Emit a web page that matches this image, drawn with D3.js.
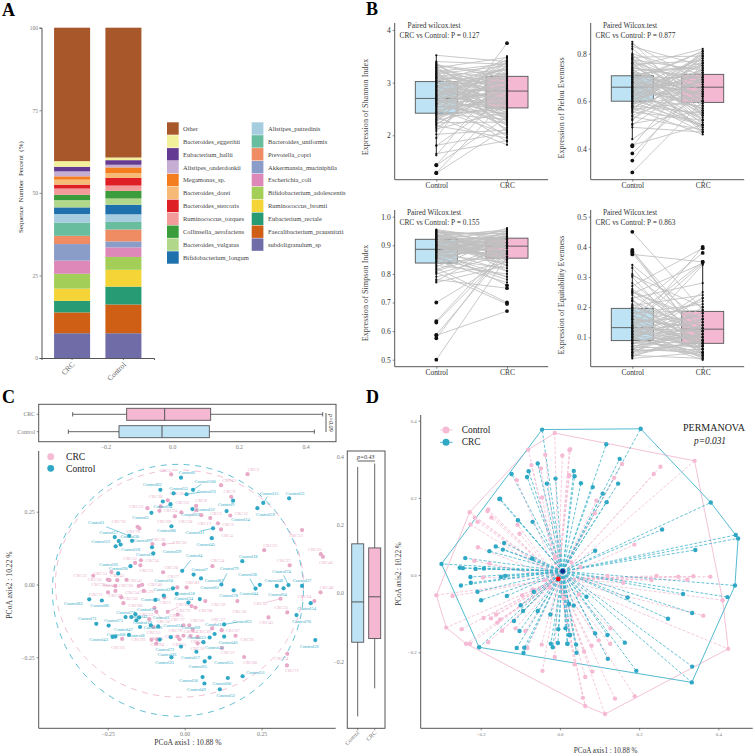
<!DOCTYPE html>
<html><head><meta charset="utf-8">
<script src="https://d3js.org/d3.v7.min.js"></script>
<style>html,body{margin:0;padding:0;background:#fff}svg{display:block}text{font-family:"Liberation Serif","Times New Roman",serif}</style>
</head><body><svg id="chart" width="755" height="756"></svg>
<script>
/* ---------- Panel A ---------- */
const species = ["subdoligranulum_sp","Faecalibacterium_prausnitzii","Eubacterium_rectale","Ruminococcus_bromii","Bifidobacterium_adolescentis","Escherichia_coli","Akkermansia_muciniphila","Prevotella_copri","Bacteroides_uniformis","Alistipes_putredinis","Bifidobacterium_longum","Bacteroides_vulgatus","Collinsella_aerofaciens","Ruminococcus_torques","Bacteroides_stercoris","Bacteroides_dorei","Megamonas_sp.","Alistipes_onderdonkii","Eubacterium_hallii","Bacteroides_eggerthii","Other"];
const speciesColors = ["#6F6CA8","#CE5F14","#269B74","#F4D437","#A3CE58","#DD88B9","#8A9CC8","#F08C64","#68BD9E","#A6CCE0","#1F71AE","#B0D78A","#3A9C3A","#F29B9A","#DE1F26","#F7BA76","#F47D20","#C6ADD2","#643A92","#F3F09C","#A8572B"];
const groupsA = ["CRC","Control"];
const shareCRC = [7.5,6.3,3.5,3.7,4.5,4,5,2.5,4,2.6,2,2.2,1.6,1.9,1.2,1.5,1,1.5,1.4,1.7,40.4];
const shareControl = [7.5,8.7,5.4,5.1,3.9,2.9,1.8,3.6,2.3,2.3,2.9,1.9,2.3,1.6,2.3,1.5,1.7,.8,1.4,.8,39.3];

/* ---------- Panel B: paired samples ---------- */
const shannonControl = [1.28,1.29,1.43,1.44,1.62,1.65,1.8,1.81,1.95,2.02,2.08,2.12,2.15,2.18,2.2,2.24,2.26,2.28,2.3,2.33,2.35,2.37,2.4,2.41,2.43,2.45,2.47,2.5,2.52,2.54,2.56,2.58,2.6,2.62,2.64,2.65,2.67,2.69,2.7,2.72,2.73,2.75,2.77,2.79,2.8,2.82,2.84,2.86,2.88,2.9,2.92,2.94,2.96,2.98,3.0,3.02,3.03,3.05,3.07,3.09,3.1,3.12,3.14,3.15,3.17,3.19,3.2,3.22,3.24,3.26,3.28,3.3,3.32,3.34,3.36,3.38,3.4,3.52,2.22,2.31,2.39,2.44,2.49,2.55,2.61,2.66,2.71,2.74,2.78,2.83,2.87,2.91,2.95,2.99,3.04,3.08,3.11,3.16,3.21,3.25,3.29,3.33,2.59,2.68,2.76,2.85,2.93,3.01];
const shannonCRC = [2.15,2.68,2.35,2.9,3.2,1.9,2.75,2.05,3.75,2.1,3.35,2.45,2.95,1.95,3.05,2.25,3.4,2.6,2.85,3.15,1.82,2.55,3.28,2.3,2.95,3.45,2.72,2.02,3.1,2.62,2.4,3.5,2.28,2.88,2.5,3.22,2.2,3.02,2.78,2.38,3.3,2.58,2.92,1.98,3.12,2.48,2.7,3.38,2.12,2.82,2.52,3.18,2.32,3.0,2.65,3.42,2.42,2.86,3.08,2.18,2.76,3.25,2.56,2.9,3.32,2.36,2.98,2.08,3.05,2.66,3.48,2.46,2.8,3.15,2.6,2.26,3.35,3.4,2.9,3.2,2.5,2.75,3.4,2.35,3.05,2.62,1.88,2.94,3.3,2.44,2.7,3.14,2.22,2.84,3.24,2.58,2.96,2.3,3.36,2.74,2.06,3.1,2.88,2.4,3.18,2.64,3.26,2.34];
const pielouControl = [.3,.35,.38,.41,.415,.44,.49,.5,.505,.52,.535,.54,.55,.555,.56,.565,.57,.575,.58,.585,.59,.595,.6,.605,.61,.615,.62,.625,.63,.635,.64,.645,.65,.655,.66,.665,.67,.675,.68,.685,.69,.695,.7,.705,.71,.715,.72,.725,.73,.735,.74,.745,.75,.755,.76,.765,.77,.775,.78,.785,.79,.795,.8,.82,.83,.84,.85,.525,.575,.59,.6,.61,.62,.63,.64,.65,.66,.67,.68,.69,.7,.71,.72,.73,.74,.76,.78,.6,.64,.66,.68,.7,.62,.58,.72];
const pielouCRC = [.6,.72,.66,.76,.5,.63,.47,.7,.56,.79,.48,.65,.74,.52,.81,.6,.46,.69,.55,.77,.62,.5,.73,.58,.67,.8,.47,.64,.71,.53,.75,.61,.68,.49,.78,.57,.72,.66,.51,.63,.81,.55,.7,.59,.76,.48,.65,.62,.74,.54,.69,.82,.58,.77,.52,.67,.6,.73,.5,.79,.64,.56,.71,.6,.75,.68,.54,.7,.5,.76,.54,.68,.79,.49,.6,.73,.57,.64,.81,.52,.66,.75,.47,.62,.7,.55,.6,.78,.5,.69,.63,.56,.72,.8,.59];
const simpsonControl = [.5,.575,.585,.587,.63,.635,.7,.77,.775,.78,.8,.805,.81,.82,.825,.83,.835,.84,.845,.85,.853,.856,.86,.863,.866,.87,.873,.876,.88,.883,.886,.889,.892,.895,.898,.9,.903,.906,.909,.912,.915,.918,.92,.923,.926,.929,.932,.935,.938,.94,.943,.946,.948,.95,.953,.955,.79,.815,.845,.855,.865,.875,.885,.89,.895,.9,.905,.91,.915,.92,.925,.93,.935,.94,.945,.95,.86,.87,.88,.89,.9,.91,.92,.93,.88,.9];
const simpsonCRC = [.86,.9,.67,.88,.88,.9,.85,.83,.91,.75,.87,.695,.89,.7,.93,.8,.94,.86,.77,.92,.82,.9,.78,.95,.84,.91,.79,.87,.93,.81,.96,.88,.85,.92,.9,.86,.94,.83,.895,.87,.91,.85,.93,.88,.92,.84,.9,.95,.89,.86,.94,.91,.87,.93,.9,.92,.84,.9,.92,.79,.88,.945,.76,.9,.86,.93,.85,.91,.87,.95,.83,.89,.92,.81,.94,.86,.9,.935,.87,.91,.85,.93,.89,.955,.905,.875];
const equitControl = [.03,.035,.04,.045,.05,.055,.06,.065,.07,.075,.08,.085,.09,.092,.095,.1,.103,.106,.11,.113,.116,.12,.123,.126,.13,.133,.136,.14,.145,.15,.155,.16,.165,.17,.175,.18,.185,.19,.195,.2,.205,.21,.22,.225,.23,.24,.245,.25,.255,.26,.27,.3,.305,.31,.33,.34,.375,.38,.385,.39,.45,.04,.05,.06,.07,.08,.09,.1,.11,.12,.13,.14,.15,.16,.17,.18,.19,.2,.22,.25,.28,.1,.12,.08,.06,.14,.05,.09,.11,.16,.13];
const equitCRC = [.05,.12,.03,.09,.16,.06,.2,.07,.11,.04,.14,.08,.34,.1,.05,.18,.025,.13,.07,.23,.09,.15,.06,.4,.12,.03,.1,.22,.08,.17,.05,.13,.35,.11,.07,.19,.09,.38,.06,.14,.24,.08,.12,.04,.28,.1,.345,.16,.07,.11,.395,.05,.2,.13,.06,.15,.35,.09,.12,.08,.19,.09,.14,.05,.11,.07,.25,.04,.16,.1,.06,.345,.08,.13,.05,.21,.09,.12,.07,.15,.1,.035,.18,.11,.14,.06,.085,.23,.045,.075,.12];
const whiskerControl = {shannon:[1.62,3.52],pielou:[.44,.85],simpson:[.77,.955],equit:[.03,.34]};
const whiskerCRC = {shannon:[1.82,3.52],pielou:[.46,.82],simpson:[.77,.96],equit:[.025,.345]};
const boxShannon = [[2.42,2.70,3.02],[2.52,2.84,3.12]];
const boxPielou = [[.6,.659,.707],[.595,.659,.713]];
const boxSimpson = [[.838,.886,.921],[.855,.897,.925]];
const boxEquit = [[.089,.132,.196],[.08,.127,.186]];

/* ---------- Panel C: PCoA box summaries [low, Q1, median, Q3, high] ---------- */
const axis1BoxCRC = [-.3,-.138,-.024,.114,.45];
const axis1BoxControl = [-.313,-.161,-.032,.11,.425];
const axis2BoxControl = [-.36,-.143,-.025,.145,.37];
const axis2BoxCRC = [-.278,-.132,-.01,.133,.38];
/* ellipse parameters [cx, cy, rx, ry] */
const ellipseControl = [-.022,-.02,.4075,.4325];
const ellipseCRC = [-.017,.003,.4026,.39];

/* sample scores in panel C: [label, axis1, axis2] */
const scoresCRC = [["CRC5",-.044,.378],["CRC13",-.121,.262],["CRC28",-.078,.268],["CRC18",-.055,.289],["CRC24",-.082,.253],["CRC62",-.011,.248],["CRC69",-.032,.234],["CRC70",-.153,.198],["CRC76",-.147,.193],["CRC30",-.105,.139],["CRC36",-.068,.138],["CRC52",-.161,.074],["CRC34",-.142,.083],["CRC21",-.144,.066],["CRC51",-.238,.043],["CRC20",-.07,.042],
["CRC3",.204,.379],["CRC12",.118,.341],["CRC9",.151,.301],["CRC8",.037,.27],["CRC58",.038,.255],["CRC17",.054,.238],["CRC2",.083,.228],["CRC11",.148,.237],["CRC6",.108,.21],["CRC4",.118,.189],["CRC22",.381,.187],["CRC23",.258,.118],["CRC65",.442,.104],["CRC46",.449,.095],["CRC27",.341,.066],["CRC14",.09,.063],
["CRC7",-.024,-.01],["CRC82",.006,-.01],["CRC48",.441,-.027],["CRC64",.421,-.057],["CRC92",.311,-.049],["CRC35",.333,-.096],["CRC45",.272,-.113],["CRC10",.171,-.057],["CRC59",.067,-.057],["CRC73",.022,-.074],["CRC68",.035,-.079],["CRC77",-.023,-.103],["CRC75",-.004,-.14],["CRC66",.015,-.14],["CRC39",.026,-.156],["CRC37",.089,-.151],["CRC67",.12,-.157],["CRC91",.165,-.176],["CRC79",-.004,-.176],["CRC25",-.023,-.179],["CRC44",.019,-.177],["CRC47",.042,-.18],["CRC15",-.017,-.188],["CRC16",.042,-.202],["CRC57",.121,-.218],["CRC80",.193,-.249],["CRC74",.333,-.238],["CRC71",.332,-.278],
["CRC31",-.297,.03],["CRC56",-.25,.017],["CRC42",-.244,.015],["CRC43",-.219,.015],["CRC41",-.189,.016],["CRC78",-.225,-.005],["CRC49",-.225,-.022],["CRC72",-.249,-.027],["CRC38",-.149,-.005],["CRC40",-.138,-.001],["CRC29",-.133,-.022],["CRC54",-.206,-.044],["CRC50",-.199,-.064],["CRC1",-.066,-.044],["CRC60",-.098,-.08],["CRC63",-.055,-.094],["CRC26",-.092,-.094],["CRC53",-.115,-.119],["CRC55",-.101,-.146],["CRC61",-.203,-.187],["CRC93",-.108,-.19],["CRC94",-.089,-.189],["CRC95",-.092,-.203]];
const scoresControl = [["Control6",-.012,.367],["Control82",-.079,.325],["Control53",-.036,.313],["Control23",.006,.31],["Control100",.027,.325],["Control94",-.071,.285],["Control62",-.046,.276],["Control5",-.108,.246],["Control80",-.043,.2],["Control1",-.18,.167],["Control17",-.227,.163],["Control30",-.214,.149],["Control28",-.208,.137],["Control12",-.224,.131],["Control97",-.171,.15],["Control29",-.106,.128],["Control31",-.102,.107],["Control26",-.176,.063],["Control90",-.216,.038],["Control4",-.008,.047],["Control7",.029,.034],["Control87",.053,.021],["Control79",.119,0],["Control78",.159,-.02],["Control38",.23,-.014],["Control44",.244,-.001],["Control48",.299,-.005],["Control64",.321,-.013],["Control74",.337,-.002],["Control37",.381,-.005],["Control54",.409,-.064],["Control70",.363,-.105],["Control59",.424,-.191],["Control25",-.038,-.013],["Control34",-.026,-.032],["Control61",.049,-.05],["Control58",.012,-.062],["Control63",.128,-.137],["Control16",.097,-.17],["Control22",.081,-.182],["Control46",.128,-.179],["Control41",.061,-.198],["Control36",-.012,-.213],["Control33",-.043,-.25],["Control57",.038,-.231],["Control65",.065,-.264],["Control55",.081,-.251],["Control50",.058,-.318],["Control49",.064,-.34],["Control60",.14,-.321],["Control51",.188,-.315],["Control52",.114,-.36],["Control83",-.31,-.051],["Control86",-.269,-.055],["Control71",-.287,-.135],["Control75",-.247,-.141],["Control77",-.192,-.112],["Control19",-.173,-.112],["Control27",-.16,-.102],["Control3",-.148,-.113],["Control8",-.157,-.123],["Control56",-.145,-.146],["Control24",-.11,-.14],["Control42",-.086,-.144],["Control43",-.234,-.18],["Control47",-.225,-.179],["Control68",-.181,-.173],["Control73",-.081,-.189],["Control69",-.045,-.181],["Control20",-.095,-.053],["Control10",-.068,-.038],["Control11",.092,.193],["Control9",.157,.288],["Control15",.255,.28],["Control13",.339,.296],["Control39",.236,.262],["Control32",.025,.259],["Control14",.136,.252],["Control18",.187,.08],["Control45",.088,.159]];
/* repelled-label nudges in pixels (name -> [dx, dy]); unlisted labels are placed by a small repel pass */
const labelNudge = {CRC5:[-6,-4],CRC13:[-11,-2],CRC28:[-5,-10],CRC18:[9,-7],CRC24:[11,0],CRC62:[1,-10],CRC69:[-11,5],CRC70:[-19,-5],CRC76:[-6,3],CRC30:[6,-5],CRC36:[16,-2],CRC52:[-5,-4],CRC34:[11,0],CRC21:[6,5],CRC51:[-11,2],CRC20:[8,-5],CRC3:[6,-5],CRC12:[8,-5],CRC9:[-2,-5],CRC8:[5,-5],CRC58:[-11,11],CRC17:[3,8],CRC2:[6,-5],CRC11:[11,-2],CRC6:[10,1],CRC4:[6,6],CRC22:[-6,5],CRC23:[6,-5],CRC65:[-6,-5],CRC46:[3,6],CRC27:[-6,-5],CRC14:[5,-6],CRC7:[-4,-11],CRC82:[6,-5],CRC48:[6,-5],CRC64:[-10,-5],CRC92:[-20,5],CRC35:[-6,-5],CRC45:[-2,5],CRC10:[2,10],CRC59:[13,3],CRC73:[-8,4],CRC68:[10,3],CRC77:[0,5],CRC75:[-7,-5],CRC66:[8,-5],CRC39:[11,2],CRC37:[6,-9],CRC67:[11,0],CRC91:[12,4],CRC79:[-8,-5],CRC25:[-6,-5],CRC57:[6,5],CRC80:[6,5],CRC74:[-6,5],CRC71:[5,5],CRC31:[-13,0],CRC41:[9,1],CRC78:[-17,-1],CRC72:[-12,2],CRC29:[3,1],CRC50:[7,-5],CRC1:[1,5],CRC60:[-19,-2],CRC63:[15,-2],CRC26:[7,10],CRC53:[-3,-5],CRC61:[-4,9],CRC93:[-13,0],
Control6:[6,-5],Control82:[-8,-5],Control53:[5,-5],Control23:[20,-3],Control100:[12,-8],Control5:[-11,5],Control80:[-5,4],Control1:[-33,-13],Control17:[-6,-5],Control12:[-15,-5],Control97:[11,0],Control28:[10,5],Control29:[20,4],Control31:[-8,-4],Control26:[-22,-2],Control4:[12,-15],Control7:[6,-5],Control87:[13,2],Control79:[8,-16],Control78:[-5,5],Control38:[-8,-14],Control44:[-11,9],Control48:[-3,-5],Control64:[-6,6],Control74:[-7,-14],Control37:[0,-5],Control54:[-4,5],Control70:[5,6],Control59:[-6,6],Control25:[-10,1],Control34:[7,5],Control61:[10,-7],Control58:[-3,-4],Control63:[18,-3],Control46:[4,6],Control33:[-7,5],Control57:[-6,6],Control65:[-7,5],Control55:[14,5],Control50:[-14,3],Control49:[-8,6],Control60:[-6,6],Control51:[13,-4],Control52:[6,6],Control83:[-16,4],Control86:[-2,5],Control71:[-9,-5],Control75:[5,-5],Control43:[-14,3],Control47:[8,-7],Control73:[5,10],Control20:[-5,5],Control11:[-18,4],Control9:[-7,4],Control15:[6,-9],Control13:[6,-5],Control39:[8,6],Control18:[6,-5],Control45:[-6,6]};
const leaderLabels = ["Control1","Control23","Control100","Control4","Control63","Control11","Control15","Control74","Control79","Control38","CRC36","CRC58","CRC63","CRC26","CRC37","CRC78","CRC92"];

/* ---------- Panel D ---------- */
const ordTeal = [[-.045,.377],[-.122,.262],[-.153,.197],[-.151,.198],[-.106,.142],[-.069,.138],[-.141,.083],[-.162,.074],[-.178,.062],[-.144,.066],[-.239,.044],[-.253,.019],[-.245,.018],[-.213,.016],[-.192,.017],[-.299,.029],[-.226,-.005],[-.225,-.02],[-.25,-.027],[-.208,-.043],[-.199,-.065],[-.149,-.005],[-.138,-.002],[-.134,-.054],[-.099,-.078],[-.093,-.093],[-.116,-.119],[-.102,-.145],[-.109,-.189],[-.09,-.188],[-.092,-.202],[-.204,-.187],[-.056,-.093],[-.024,-.102],[-.023,-.178],[-.018,-.187],[-.005,-.176],[.019,-.178],[-.004,-.14],[.014,-.138],[.023,-.075],[-.011,.25],[-.033,.237],[-.056,.289],[-.079,.269],[-.083,.254],[-.07,.043],[-.066,-.043],[.023,-.155],
[.204,.379],[.117,.339],[.151,.301],[.035,.27],[.037,.256],[.053,.238],[.083,.228],[.147,.237],[.108,.211],[.118,.189],[.381,.188],[.444,.104],[.45,.095],[.258,.118],[.342,.065],[.089,.063],[.442,-.027],[.423,-.057],[.311,-.049],[.334,-.098],[.273,-.113],[.171,-.058],[.067,-.056],[.023,-.075],[.035,-.079],[.089,-.151],[.026,-.155],[.12,-.155],[.164,-.175],[.041,-.18],[.019,-.178],[.042,-.201],[.121,-.217],[.193,-.248],[.334,-.237],[.333,-.278]];
const ordPink = [[-.013,.368],[-.08,.325],[-.037,.312],[.006,.31],[.024,.324],[-.072,.285],[-.048,.276],[.023,.258],[-.109,.246],[-.045,.201],[-.228,.163],[-.181,.17],[-.183,.166],[-.173,.149],[-.215,.149],[-.208,.138],[-.226,.131],[-.107,.13],[-.102,.107],[-.207,.072],[-.178,.03],[-.216,.037],[-.011,.047],[-.194,-.006],[-.312,-.052],[-.271,-.054],[-.069,-.037],[-.095,-.052],[-.026,-.032],[-.038,-.013],[.01,-.06],[-.287,-.136],[-.248,-.14],[-.193,-.111],[-.174,-.112],[-.161,-.102],[-.158,-.123],[-.151,-.115],[-.146,-.144],[-.112,-.138],[-.087,-.145],[-.237,-.178],[-.227,-.178],[-.181,-.174],[-.082,-.189],[-.046,-.18],[-.013,-.212],[-.044,-.248],
[.026,.326],[.34,.296],[.254,.281],[.237,.262],[.157,.288],[.137,.252],[.024,.258],[.092,.193],[.088,.16],[.188,.079],[.052,.021],[.029,.033],[.12,-.002],[.244,-.002],[.299,-.004],[.337,-.003],[.38,-.004],[.322,-.012],[.231,-.013],[.16,-.02],[.048,-.05],[.411,-.065],[.362,-.105],[.425,-.191],[.128,-.138],[.127,-.178],[.098,-.169],[.08,-.183],[.061,-.198],[.037,-.231],[.064,-.264],[.082,-.25],[.058,-.318],[.064,-.339],[.114,-.36],[.139,-.32],[.189,-.314]];
const centroidTeal = [.007,.01];
const centroidPink = [-.004,-.01];

/* ---------- styles ---------- */
const PINK="#F5BAD4", TEAL="#2FA8C6", BLUEBOX="#BDE3F5", PINKBOX="#F4B8D3", AXIS="#555555", GREY="#7c7c7c", DARK="#333333";
const svg = d3.select("#chart");
const txt = (g,x,y,s,size,opt={}) => {
  const t = g.append("text").attr("x",x).attr("y",y).text(s).attr("font-size",size)
    .attr("fill",opt.fill||DARK).attr("text-anchor",opt.anchor||"middle");
  if(opt.rot!==undefined) t.attr("transform",`rotate(${opt.rot},${x},${y})`);
  if(opt.italic) t.attr("font-style","italic");
  if(opt.bold) t.attr("font-weight","bold");
  return t;
};
const styleAxis = (g,size,color) => {
  g.selectAll("path.domain").attr("stroke",AXIS).attr("stroke-width",1);
  g.selectAll(".tick line").attr("stroke",AXIS).attr("stroke-width",.7);
  g.selectAll(".tick text").attr("font-size",size).attr("fill",color).attr("font-family","Liberation Serif");
};
[["A",2,16],["B",366,15],["C",2,403],["D",366,403]].forEach(d=>txt(svg,d[1],d[2],d[0],18,{anchor:"start",bold:true,fill:"#000"}));

/* ---------- A ---------- */
(function(){
  const g = svg.append("g");
  const y = d3.scaleLinear().domain([0,100]).range([358,27.7]);
  const x = d3.scaleBand().domain(groupsA).range([41.5,154]).paddingInner(.298).paddingOuter(.245);
  const rows = groupsA.map((name,i)=>{const r={group:name};species.forEach((s,j)=>r[s]=(i?shareControl:shareCRC)[j]);return r;});
  d3.stack().keys(species)(rows).forEach((layer,j)=>{
    g.selectAll(null).data(layer).enter().append("rect")
      .attr("x",d=>x(d.data.group)).attr("width",x.bandwidth())
      .attr("y",d=>y(d[1])).attr("height",d=>y(d[0])-y(d[1])).attr("fill",speciesColors[j]);
  });
  const ay = g.append("g").attr("transform","translate(41.5,0)").call(d3.axisLeft(y).tickValues([0,25,50,75,100]).tickSize(2).tickPadding(1.5));
  styleAxis(ay,5.5,GREY);
  const ax = g.append("g").attr("transform","translate(0,358)").call(d3.axisBottom(x).tickSize(2).tickFormat(""));
  styleAxis(ax,7,GREY);
  groupsA.forEach(n=>txt(g,x(n)+x.bandwidth()/2+3,365,n,7.5,{anchor:"end",rot:-45,fill:"#666"}));
  txt(g,23,187,"Sequence  Number  Percent  (%)",7,{rot:-90}).attr("xml:space","preserve").style("white-space","pre");
  const order = species.map((s,i)=>i).reverse();
  order.forEach((idx,k)=>{
    const col = k<11?0:1, row = k<11?k:k-11;
    const sx = col?251.7:167, ty = 122.3+row*12.9;
    g.append("rect").attr("x",sx).attr("y",ty).attr("width",11.7).attr("height",12.4).attr("fill",speciesColors[idx]);
    txt(g,col?268:183,ty+8.5,species[idx],6.5,{anchor:"start",fill:"#444"});
  });
})();

/* ---------- B ---------- */
function pairedPanel(o){
  const g = svg.append("g");
  const y = d3.scaleLinear().domain(o.yDomain).range(o.yRange);
  const x = d3.scalePoint().domain(["Control","CRC"]).range(o.xRange);
  const half = 21;
  ["Control","CRC"].forEach((n,i)=>{
    const b = o.box[i], w = (i?o.whiskerB:o.whiskerA);
    g.append("rect").attr("x",x(n)-half).attr("width",half*2).attr("y",y(b[2])).attr("height",y(b[0])-y(b[2]))
      .attr("fill",i?PINKBOX:BLUEBOX).attr("stroke",AXIS).attr("stroke-width",.9);
    g.append("line").attr("x1",x(n)-half).attr("x2",x(n)+half).attr("y1",y(b[1])).attr("y2",y(b[1])).attr("stroke",AXIS).attr("stroke-width",.9);
    g.append("line").attr("x1",x(n)).attr("x2",x(n)).attr("y1",y(w[0])).attr("y2",y(w[1])).attr("stroke","#222").attr("stroke-width",1);
  });
  o.a.forEach((v,i)=>{
    g.append("line").attr("x1",x("Control")).attr("x2",x("CRC")).attr("y1",y(v)).attr("y2",y(o.b[i]))
      .attr("stroke","#bfbfbf").attr("stroke-width",.85);
  });
  const dots = (vals,n,w)=>g.selectAll(null).data(vals).enter().append("circle")
    .attr("cx",x(n)).attr("cy",d=>y(d)).attr("fill","#111").attr("r",d=>(d<w[0]||d>w[1])?1.9:1.1);
  dots(o.a,"Control",o.whiskerA); dots(o.b,"CRC",o.whiskerB);
  const ay = g.append("g").attr("transform",`translate(${o.axisX},0)`).call(d3.axisLeft(y).tickValues(o.ticks).tickSize(2).tickPadding(2).tickFormat(o.fmt));
  styleAxis(ay,7.6,DARK);
  ay.select("path.domain").attr("d",`M0,${o.top}V${o.bottom}`);
  const ax = g.append("g").attr("transform",`translate(0,${o.bottom})`).call(d3.axisBottom(x).tickSize(2).tickPadding(1.5));
  styleAxis(ax,7.4,DARK);
  ax.select("path.domain").attr("d",`M${o.axisX},0H${o.axisX+153.5}`);
  txt(g,o.titleX,o.top+5,o.title,7.4);
  txt(g,o.axisX+4.8,o.top+14.7,o.stat,7.4,{anchor:"start"});
  txt(g,o.labelX,o.labelY,o.label,8.2,{rot:-90,fill:"#444"});
}
pairedPanel({a:shannonControl,b:shannonCRC,box:boxShannon,whiskerA:whiskerControl.shannon,whiskerB:whiskerCRC.shannon,yDomain:[2,4],yRange:[135.3,30],xRange:[436.3,507],axisX:394.7,top:23,bottom:179.7,ticks:[2,3,4],fmt:d3.format("d"),title:"Paired wilcox.test",titleX:434,stat:"CRC vs Control: P = 0.127",labelX:368,labelY:107,label:"Expression of Shannon Index"});
pairedPanel({a:pielouControl,b:pielouCRC,box:boxPielou,whiskerA:whiskerControl.pielou,whiskerB:whiskerCRC.pielou,yDomain:[.4,.8],yRange:[148.7,53.7],xRange:[632.3,702.7],axisX:590.7,top:23,bottom:179.7,ticks:[.4,.6,.8],fmt:d3.format(".1f"),title:"Paired Wilcox.test",titleX:630,stat:"CRC vs Control: P = 0.877",labelX:564,labelY:108,label:"Expression of Pielou Evenness"});
pairedPanel({a:simpsonControl,b:simpsonCRC,box:boxSimpson,whiskerA:whiskerControl.simpson,whiskerB:whiskerCRC.simpson,yDomain:[.5,1],yRange:[359.7,216.7],xRange:[436.3,507],axisX:394.7,top:210,bottom:366.7,ticks:[.5,.6,.7,.8,.9,1],fmt:d3.format(".1f"),title:"Paired Wilcox.test",titleX:434,stat:"CRC vs Control: P = 0.155",labelX:368,labelY:293,label:"Expression of Simpson Index"});
pairedPanel({a:equitControl,b:equitCRC,box:boxEquit,whiskerA:whiskerControl.equit,whiskerB:whiskerCRC.equit,yDomain:[.1,.5],yRange:[337.3,216.7],xRange:[632.3,702.7],axisX:590.7,top:210,bottom:366.7,ticks:[.1,.2,.3,.4,.5],fmt:d3.format(".1f"),title:"Paired Wilcox.test",titleX:630,stat:"CRC vs Control: P = 0.863",labelX:564,labelY:295,label:"Expression of Equitability Evenness"});

/* ---------- C ---------- */
(function(){
  const g = svg.append("g");
  const tx = d3.scaleLinear().domain([-.2,.4]).range([106,306]);
  g.append("rect").attr("x",38.7).attr("y",404.3).attr("width",297.3).attr("height",37.4).attr("fill","none").attr("stroke",AXIS).attr("stroke-width",1);
  [[axis1BoxCRC,414.3,PINKBOX,"CRC"],[axis1BoxControl,431.7,BLUEBOX,"Control"]].forEach(d=>{
    const [v,cy,fill,n]=d;
    g.append("line").attr("x1",tx(v[0])).attr("x2",tx(v[4])).attr("y1",cy).attr("y2",cy).attr("stroke",AXIS).attr("stroke-width",.9);
    [v[0],v[4]].forEach(e=>g.append("line").attr("x1",tx(e)).attr("x2",tx(e)).attr("y1",cy-2.2).attr("y2",cy+2.2).attr("stroke",AXIS).attr("stroke-width",.9));
    g.append("rect").attr("x",tx(v[1])).attr("width",tx(v[3])-tx(v[1])).attr("y",cy-6).attr("height",12).attr("fill",fill).attr("stroke",AXIS).attr("stroke-width",.9);
    g.append("line").attr("x1",tx(v[2])).attr("x2",tx(v[2])).attr("y1",cy-6).attr("y2",cy+6).attr("stroke",AXIS).attr("stroke-width",1);
    txt(g,35,cy+2,n,5.8,{anchor:"end",fill:GREY});
    g.append("line").attr("x1",36.7).attr("x2",38.7).attr("y1",cy).attr("y2",cy).attr("stroke",AXIS).attr("stroke-width",.7);
  });
  [-.2,0,.2,.4].forEach(v=>txt(g,tx(v),448.5,d3.format(".1f")(v),5.8,{fill:GREY}));
  g.append("line").attr("x1",326).attr("x2",326).attr("y1",413).attr("y2",432).attr("stroke","#333").attr("stroke-width",.8);
  txt(g,329,422.7,"p=0.09",6,{rot:90,italic:true});
  const x = d3.scaleLinear().domain([-.25,.25]).range([107.7,261.7]);
  const y = d3.scaleLinear().domain([-.25,.25]).range([657.3,511.7]);
  const ell = (p,c,dash)=>{
    const cx=x(p[0]),cy=y(p[1]),rx=x(p[2])-x(0),ry=y(0)-y(p[3]);
    g.append("ellipse").attr("cx",cx).attr("cy",cy).attr("rx",rx).attr("ry",ry).attr("fill","none").attr("stroke",c).attr("stroke-width",.8).attr("stroke-dasharray",dash);
  };
  ell(ellipseControl,"#3AB0CC","6,5.5");
  ell(ellipseCRC,"#EDB0CC","6,5.5");
  /* small greedy repel pass so that the tiny sample labels do not sit on each other */
  const placed=[];
  const fontC=4.6;
  const boxOf=(name,cx,cy)=>{const w=name.length*fontC*.47;return [cx-w/2,cy-2.1,cx+w/2,cy+2.1];};
  const overlap=(b)=>d3.sum(placed,p=>{const a=Math.min(b[2],p[2])-Math.max(b[0],p[0]),c=Math.min(b[3],p[3])-Math.max(b[1],p[1]);return a>0&&c>0?a*c:0;});
  const spots=[[0,-5],[0,5],[-13,0],[13,0],[-11,-5],[11,-5],[-11,5],[11,5],[0,-10],[0,10],[-14,-8],[14,-8],[-14,8],[14,8],[-22,0],[22,0],[0,-15],[0,15],[-20,-10],[20,-10],[-20,10],[20,10]];
  const labelSpot=(name,px,py)=>{
    const pref=labelNudge[name];
    const cands=pref?[pref].concat(spots.map(s=>[pref[0]+s[0],pref[1]+s[1]])):spots;
    let best=cands[0],bestV=Infinity;
    for(const c of cands){const v=overlap(boxOf(name,px+c[0],py+c[1]));if(v<bestV-1e-6){bestV=v;best=c;}if(v===0)break;}
    placed.push(boxOf(name,px+best[0],py+best[1]));
    return best;
  };
  const withNudge=scoresCRC.concat(scoresControl).slice().sort((p,q)=>(labelNudge[q[0]]?1:0)-(labelNudge[p[0]]?1:0));
  const spotOf={};
  withNudge.forEach(d=>{spotOf[d[0]]=labelSpot(d[0],x(d[1]),y(d[2]));});
  const drawSet = (data,color,lab)=>{
    data.forEach(d=>{
      const px=x(d[1]),py=y(d[2]);
      const nudge=spotOf[d[0]];
      if(leaderLabels.includes(d[0])){
        g.append("line").attr("x1",px).attr("y1",py).attr("x2",px+nudge[0]*.7).attr("y2",py+nudge[1]*.7).attr("stroke",color).attr("stroke-width",.6);
      }
      g.append("circle").attr("cx",px).attr("cy",py).attr("r",2.1).attr("fill",color);
      txt(g,px+nudge[0],py+nudge[1]+1.5,d[0],fontC,{fill:lab});
    });
  };
  drawSet(scoresCRC,"#E7A9C7","#E9AECB");
  drawSet(scoresControl,TEAL,"#36ACC8");
  const ax = g.append("g").attr("transform","translate(0,728.3)").call(d3.axisBottom(x).tickValues([-.25,0,.25]).tickSize(2).tickPadding(2).tickFormat(d3.format(".2f")));
  styleAxis(ax,5.8,GREY); ax.select("path.domain").attr("d","M38.7,0H335.7");
  const ay = g.append("g").attr("transform","translate(38.7,0)").call(d3.axisLeft(y).tickValues([-.25,0,.25]).tickSize(2).tickPadding(2).tickFormat(d3.format(".2f")));
  styleAxis(ay,5.8,GREY); ay.select("path.domain").attr("d","M0,451V728.3");
  txt(g,188,745,"PCoA axis1 : 10.88 %",7.6);
  txt(g,12,585,"PCoA axis2 : 10.22 %",7.6,{rot:-90});
  g.append("circle").attr("cx",50.7).attr("cy",456.7).attr("r",3.4).attr("fill",PINK);
  g.append("circle").attr("cx",50.7).attr("cy",468.3).attr("r",3.4).attr("fill",TEAL);
  txt(g,66,460,"CRC",9.6,{anchor:"start",fill:"#222"});
  txt(g,66,471.5,"Control",9.6,{anchor:"start",fill:"#222"});
  const ry = d3.scaleLinear().domain([-.2,.4]).range([661.7,456.7]);
  g.append("rect").attr("x",347.3).attr("y",451).attr("width",37.7).attr("height",277.3).attr("fill","none").attr("stroke",AXIS).attr("stroke-width",1);
  [[axis2BoxControl,357.7,BLUEBOX,"Control"],[axis2BoxCRC,374.7,PINKBOX,"CRC"]].forEach(d=>{
    const [v,cx,fill,n]=d;
    g.append("line").attr("x1",cx).attr("x2",cx).attr("y1",ry(v[0])).attr("y2",ry(v[4])).attr("stroke",AXIS).attr("stroke-width",.9);
    g.append("rect").attr("x",cx-6).attr("width",12).attr("y",ry(v[3])).attr("height",ry(v[1])-ry(v[3])).attr("fill",fill).attr("stroke",AXIS).attr("stroke-width",.9);
    g.append("line").attr("x1",cx-6).attr("x2",cx+6).attr("y1",ry(v[2])).attr("y2",ry(v[2])).attr("stroke",AXIS).attr("stroke-width",1);
    txt(g,cx+2,733,n,5.8,{anchor:"end",rot:-45,fill:GREY});
    g.append("line").attr("x1",cx).attr("x2",cx).attr("y1",728.3).attr("y2",730.3).attr("stroke",AXIS).attr("stroke-width",.7);
  });
  [-.2,0,.2,.4].forEach(v=>txt(g,344,ry(v)+2,d3.format(".1f")(v),5.8,{anchor:"end",fill:GREY}));
  g.append("line").attr("x1",357.5).attr("x2",375).attr("y1",461).attr("y2",461).attr("stroke","#333").attr("stroke-width",.8);
  txt(g,365.7,459,"p=0.43",6,{italic:true});
})();

/* ---------- D ---------- */
(function(){
  const g = svg.append("g");
  const x = d3.scaleLinear().domain([-.2,.4]).range([480.7,718.3]);
  const y = d3.scaleLinear().domain([-.2,.4]).range([652.3,420.7]);
  const hull = (pts,c)=>{
    const h = d3.polygonHull(pts.map(p=>[x(p[0]),y(p[1])]));
    g.append("path").attr("d",d3.line().curve(d3.curveLinearClosed)(h)).attr("fill","none").attr("stroke",c).attr("stroke-width",.9);
  };
  hull(ordPink,"#F3BBD3"); hull(ordTeal,"#3FB2CC");
  const spokes=(pts,cen,c)=>g.selectAll(null).data(pts).enter().append("line")
    .attr("x1",x(cen[0])).attr("y1",y(cen[1])).attr("x2",d=>x(d[0])).attr("y2",d=>y(d[1]))
    .attr("stroke",c).attr("stroke-width",.8).attr("stroke-dasharray","3,1.8");
  spokes(ordPink,centroidPink,"#F3BBD3"); spokes(ordTeal,centroidTeal,"#3FB2CC");
  const dots=(pts,c)=>g.selectAll(null).data(pts).enter().append("circle")
    .attr("cx",d=>x(d[0])).attr("cy",d=>y(d[1])).attr("r",2.2).attr("fill",c);
  dots(ordPink,PINK); dots(ordTeal,TEAL);
  g.append("circle").attr("cx",x(centroidPink[0])).attr("cy",y(centroidPink[1])).attr("r",2.4).attr("fill","#F0101E");
  g.append("circle").attr("cx",x(centroidTeal[0])).attr("cy",y(centroidTeal[1])).attr("r",2.4).attr("fill","#0D2C8C");
  const ax = g.append("g").attr("transform","translate(0,728.3)").call(d3.axisBottom(x).tickValues([-.2,0,.2,.4]).tickSize(2).tickPadding(2).tickFormat(d3.format(".1f")));
  styleAxis(ax,4.8,GREY); ax.select("path.domain").attr("d","M420.7,0H752.7");
  const ay = g.append("g").attr("transform","translate(420.7,0)").call(d3.axisLeft(y).tickValues([-.2,0,.2,.4]).tickSize(2).tickPadding(2).tickFormat(d3.format(".1f")));
  styleAxis(ay,4.8,GREY); ay.select("path.domain").attr("d","M0,415V728.3");
  txt(g,605.7,753,"PCoA axis1 : 10.88 %",7.2);
  txt(g,401,574,"PCoA axis2 : 10.22 %",7.2,{rot:-90});
  [[430,PINK,"Control"],[442.3,TEAL,"CRC"]].forEach(d=>{
    g.append("line").attr("x1",440).attr("x2",452.7).attr("y1",d[0]).attr("y2",d[0]).attr("stroke",d[1]).attr("stroke-width",.8);
    g.append("circle").attr("cx",446).attr("cy",d[0]).attr("r",3.5).attr("fill",d[1]);
    txt(g,461.7,d[0]+3,d[2],9.4,{anchor:"start",fill:"#222"});
  });
  txt(g,714,431,"PERMANOVA",10,{fill:"#222"});
  txt(g,710,444,"p=0.031",9.4,{italic:true,fill:"#222"});
})();
</script></body></html>
